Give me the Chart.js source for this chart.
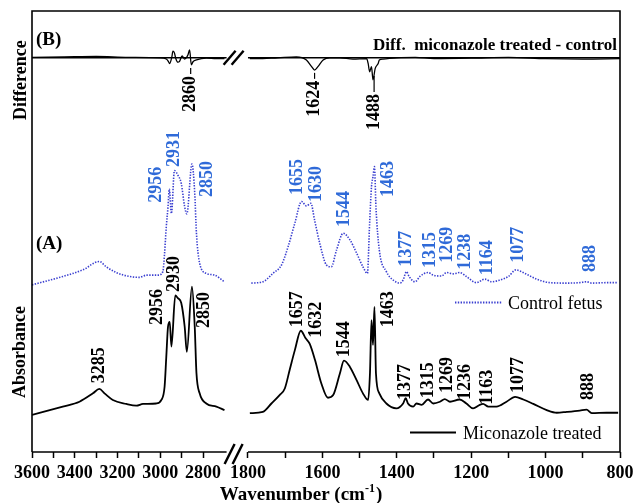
<!DOCTYPE html>
<html>
<head>
<meta charset="utf-8">
<script src="https://cdn.jsdelivr.net/npm/chart.js@4.4.1/dist/chart.umd.min.js"></script>
<style>
  html, body { margin: 0; padding: 0; background: #fff; }
</style>
</head>
<body>
<canvas id="ftir" width="636" height="503"></canvas>
<script>
// FTIR spectra: wavenumber (cm-1) and relative absorbance (a.u., stacked offsets)
// high wavenumber window 3600-2700, low wavenumber window 1800-800

const micHighWn = [3600, 3456, 3378, 3315, 3285, 3261, 3222, 3159, 3112, 3081, 3019, 2995, 2980, 2972, 2964, 2956, 2948, 2930, 2918, 2902, 2886, 2876, 2852, 2839, 2831, 2816, 2785, 2738, 2700];
const micHighAbs = [8.4, 10.3, 11.4, 13.3, 14.3, 13.3, 11.8, 10.9, 10.5, 10.9, 11.0, 11.8, 14.8, 21.6, 28.4, 29.5, 23.9, 35.5, 34.9, 33.8, 28.4, 22.7, 37.5, 28.4, 17.9, 13.3, 11.0, 10.3, 9.5];

const micLowWn = [1795, 1760, 1737, 1715, 1701, 1688, 1674, 1658, 1645, 1634, 1620, 1603, 1585, 1571, 1553, 1542, 1526, 1508, 1491, 1477, 1472, 1468, 1464, 1460, 1456, 1447, 1428, 1401, 1383, 1376, 1370, 1356, 1347, 1333, 1316, 1302, 1284, 1271, 1257, 1231, 1213, 1195, 1177, 1168, 1154, 1132, 1105, 1082, 1060, 1033, 997, 970, 943, 908, 890, 876, 836, 805];
const micLowAbs = [8.8, 9.1, 11.0, 12.9, 14.4, 18.6, 23.1, 27.5, 25.8, 24.5, 20.9, 15.6, 12.3, 12.9, 17.8, 20.7, 19.3, 16.3, 13.3, 11.8, 18.1, 29.9, 24.3, 32.9, 17.8, 13.3, 11.0, 9.9, 11.0, 12.2, 11.0, 10.3, 11.0, 10.7, 11.9, 11.0, 11.4, 12.0, 11.4, 11.9, 11.0, 9.9, 10.7, 10.9, 10.3, 10.3, 11.4, 12.5, 11.9, 10.9, 9.5, 8.9, 9.1, 9.4, 9.6, 8.8, 8.9, 8.9];

const ctrlHighWn = [3600, 3456, 3362, 3285, 3253, 3206, 3144, 3097, 3065, 3011, 2988, 2980, 2972, 2964, 2958, 2948, 2934, 2918, 2902, 2886, 2876, 2852, 2839, 2831, 2816, 2785, 2746, 2700];
const ctrlHighAbs = [37.9, 39.8, 41.3, 43.2, 42.0, 40.7, 39.8, 39.6, 40.1, 40.1, 40.9, 45.1, 51.1, 55.6, 59.6, 54.1, 63.8, 62.8, 60.9, 55.6, 54.0, 65.3, 58.7, 49.6, 42.8, 40.5, 40.1, 38.6];

const ctrlLowWn = [1791, 1760, 1733, 1710, 1692, 1674, 1656, 1643, 1631, 1621, 1607, 1589, 1576, 1562, 1544, 1526, 1508, 1491, 1479, 1473, 1468, 1464, 1460, 1456, 1447, 1428, 1410, 1391, 1383, 1374, 1367, 1351, 1338, 1316, 1302, 1280, 1266, 1248, 1231, 1213, 1186, 1163, 1145, 1123, 1100, 1080, 1056, 1024, 988, 943, 908, 890, 876, 836, 805];
const ctrlLowAbs = [38.3, 38.6, 40.5, 42.4, 46.6, 51.9, 56.8, 55.8, 56.4, 52.6, 47.3, 42.4, 42.0, 45.8, 49.6, 48.1, 45.1, 42.0, 40.5, 51.9, 60.2, 62.4, 64.7, 55.6, 45.8, 40.9, 39.0, 38.3, 39.0, 40.9, 39.8, 38.6, 39.8, 40.7, 40.1, 39.9, 40.7, 40.4, 40.7, 39.8, 38.4, 39.2, 38.6, 39.0, 39.8, 41.3, 40.5, 39.2, 38.4, 38.3, 38.4, 38.6, 38.3, 38.4, 38.4];

// difference spectrum (miconazole treated - control), drawn around its own zero line
const diffZero = 89.4;
const diffHighWn = [3600, 3450, 3300, 3150, 3000, 2972, 2964, 2956, 2946, 2941, 2934, 2928, 2918, 2910, 2898, 2886, 2871, 2863, 2855, 2847, 2831, 2785, 2738, 2700];
const diffHighAbs = [89.5, 89.6, 89.7, 89.5, 89.4, 89.1, 88.7, 88.1, 89.6, 90.9, 90.5, 89.3, 88.4, 88.6, 89.8, 89.1, 90.0, 91.2, 87.8, 88.5, 88.9, 89.3, 89.2, 89.2];
const diffLowWn = [1795, 1777, 1720, 1670, 1643, 1629, 1621, 1612, 1598, 1580, 1553, 1518, 1481, 1477, 1473, 1468, 1464, 1458, 1450, 1447, 1437, 1400, 1350, 1300, 1200, 1100, 1000, 900, 800];
const diffLowAbs = [89.2, 89.2, 89.4, 89.6, 88.9, 87.4, 86.6, 87.4, 88.9, 89.4, 89.4, 89.1, 89.2, 88.1, 86.2, 87.4, 84.4, 87.0, 88.1, 88.9, 89.1, 89.4, 89.5, 89.2, 89.3, 89.5, 89.2, 89.1, 89.2];

// tick values of the two axis windows
const highTicks = [3600, 3500, 3400, 3300, 3200, 3100, 3000, 2900, 2800];
const lowTicks = [1800, 1700, 1600, 1500, 1400, 1300, 1200, 1100, 1000, 900, 800];

// peak labels: text, axis window, wavenumber where the label sits, absorbance at the label foot
const ctrlPeaks = [
  ['2956', 'xL', 3019, 56.5], ['2931', 'xL', 2933, 64.6], ['2850', 'xL', 2779, 57.8],
  ['1655', 'xR', 1666, 58.3], ['1630', 'xR', 1615, 56.7], ['1544', 'xR', 1540, 51.0],
  ['1463', 'xR', 1424, 57.8], ['1377', 'xR', 1374, 42.0], ['1315', 'xR', 1311, 41.7],
  ['1269', 'xR', 1265, 42.9], ['1238', 'xR', 1217, 41.3], ['1164', 'xR', 1157, 40.1],
  ['1077', 'xR', 1074, 42.9], ['888', 'xR', 881, 40.8]
];
const micPeaks = [
  ['3285', 'xL', 3284, 15.6], ['2956', 'xL', 3012, 28.8], ['2930', 'xL', 2933, 36.3],
  ['2850', 'xL', 2793, 28.1], ['1657', 'xR', 1666, 28.3], ['1632', 'xR', 1615, 25.9],
  ['1544', 'xR', 1540, 21.5], ['1463', 'xR', 1424, 28.3], ['1377', 'xR', 1378, 11.8],
  ['1315', 'xR', 1316, 12.2], ['1269', 'xR', 1265, 13.4], ['1236', 'xR', 1217, 11.8],
  ['1163', 'xR', 1157, 10.7], ['1077', 'xR', 1074, 13.4], ['888', 'xR', 886, 11.8]
];
const diffPeaks = [
  ['2860', 'xL', 2858, 77.1], ['1624', 'xR', 1621, 76.0], ['1488', 'xR', 1461, 73.0]
];

const BLUE_LINE = '#3a3fd0';
const BLUE_TEXT = '#2f6ad8';
const SERIF = '"Liberation Serif", "Times New Roman", serif';

const pts = (wn, ab) => wn.map((w, i) => ({ x: w, y: ab[i] }));

const solid = (data, axis, width) => ({
  data: data, xAxisID: axis, borderColor: '#000', borderWidth: width,
  pointRadius: 0, fill: false, cubicInterpolationMode: 'monotone'
});
const dotted = (data, axis) => ({
  data: data, xAxisID: axis, borderColor: BLUE_LINE, borderWidth: 1.6,
  borderDash: [1.4, 1.4], pointRadius: 0, fill: false, cubicInterpolationMode: 'monotone'
});

const rotText = (ctx, text, x, y, font, color) => {
  ctx.save();
  ctx.translate(x, y);
  ctx.rotate(-Math.PI / 2);
  ctx.font = font;
  ctx.fillStyle = color;
  ctx.textAlign = 'left';
  ctx.textBaseline = 'middle';
  ctx.fillText(text, 0, 0);
  ctx.restore();
};

const slashes = (ctx, x, y, dx, dy) => {
  ctx.save();
  ctx.lineWidth = 2.4;
  ctx.strokeStyle = '#000';
  [0, 8].forEach(off => {
    ctx.beginPath();
    ctx.moveTo(x + off - dx, y + dy);
    ctx.lineTo(x + off + dx, y - dy);
    ctx.stroke();
  });
  ctx.restore();
};

// frame with axis break, zero line of the difference panel, labels and legend
const decor = {
  id: 'decor',
  beforeDatasetsDraw(chart) {
    const ctx = chart.ctx;
    const { left, right } = chart.chartArea;
    const y0 = chart.scales.y.getPixelForValue(diffZero);
    const gapL = chart.scales.xL.getPixelForValue(2690);
    const gapR = chart.scales.xR.getPixelForValue(1800);
    ctx.save();
    ctx.strokeStyle = '#000';
    ctx.lineWidth = 1.3;
    ctx.beginPath();
    ctx.moveTo(left, y0); ctx.lineTo(gapL, y0);
    ctx.moveTo(gapR, y0); ctx.lineTo(right, y0);
    ctx.stroke();
    ctx.restore();
  },
  afterDraw(chart) {
    const ctx = chart.ctx;
    const { left, right, top, bottom } = chart.chartArea;
    const ys = chart.scales.y;
    const gapL = chart.scales.xL.getPixelForValue(2690);
    const gapR = chart.scales.xR.getPixelForValue(1800);
    const y0 = ys.getPixelForValue(diffZero);

    ctx.save();
    ctx.strokeStyle = '#000';
    ctx.lineWidth = 1.6;
    ctx.beginPath();
    ctx.moveTo(left, bottom); ctx.lineTo(left, top); ctx.lineTo(right, top); ctx.lineTo(right, bottom);
    ctx.moveTo(left, bottom); ctx.lineTo(gapL, bottom);
    ctx.moveTo(gapR, bottom); ctx.lineTo(right, bottom);
    ctx.stroke();
    ctx.restore();
    slashes(ctx, gapL + 3, bottom + 2, 5, 10);
    slashes(ctx, gapL + 3, y0, 6, 7);

    const labelFont = 'bold 18px ' + SERIF;
    const put = (list, color) => list.forEach(([t, ax, at, base]) => {
      rotText(ctx, t, chart.scales[ax].getPixelForValue(at), ys.getPixelForValue(base), labelFont, color);
    });
    put(ctrlPeaks, BLUE_TEXT);
    put(micPeaks, '#000');
    put(diffPeaks, '#000');

    // short leaders from the difference dips down to their labels
    ctx.save();
    ctx.strokeStyle = '#000';
    ctx.lineWidth = 1.2;
    ctx.font = labelFont;
    diffPeaks.forEach(([t, ax, at, base]) => {
      const x = chart.scales[ax].getPixelForValue(at);
      const yl = ys.getPixelForValue(base) - ctx.measureText(t).width - 2;
      ctx.beginPath();
      ctx.moveTo(x, yl);
      ctx.lineTo(x, t === '1488' ? yl - 16 : yl - 6);
      ctx.stroke();
    });
    ctx.restore();

    ctx.save();
    ctx.fillStyle = '#000';
    ctx.font = 'bold 19px ' + SERIF;
    ctx.textBaseline = 'alphabetic';
    ctx.fillText('(B)', left + 4, top + 34);
    ctx.fillText('(A)', left + 4, top + 238);
    ctx.font = 'bold 17px ' + SERIF;
    ctx.textAlign = 'right';
    ctx.fillText('Diff.  miconazole treated - control', right - 3, top + 39);

    // legend entries
    ctx.textAlign = 'left';
    ctx.font = '18px ' + SERIF;
    ctx.fillText('Control fetus', right - 112, 309);
    ctx.fillText('Miconazole treated', right - 157, 439);
    ctx.strokeStyle = BLUE_LINE;
    ctx.lineWidth = 1.8;
    ctx.setLineDash([1.4, 1.4]);
    ctx.beginPath(); ctx.moveTo(right - 165, 302.5); ctx.lineTo(right - 118, 302.5); ctx.stroke();
    ctx.setLineDash([]);
    ctx.strokeStyle = '#000';
    ctx.lineWidth = 2;
    ctx.beginPath(); ctx.moveTo(right - 210, 432.5); ctx.lineTo(right - 164, 432.5); ctx.stroke();

    // axis titles
    rotText(ctx, 'Difference', 21, 120, 'bold 18px ' + SERIF, '#000');
    ctx.font = 'bold 18px ' + SERIF;
    const absW = ctx.measureText('Absorbance').width;
    rotText(ctx, 'Absorbance', 20, 352 + absW / 2, 'bold 18px ' + SERIF, '#000');

    const t1 = 'Wavenumber (cm', t3 = ')';
    ctx.textAlign = 'left';
    ctx.font = 'bold 12px ' + SERIF;
    const supW = ctx.measureText('-1').width;
    ctx.font = 'bold 19px ' + SERIF;
    const w1 = ctx.measureText(t1).width, w3 = ctx.measureText(t3).width;
    let x = 301 - (w1 + supW + 1 + w3) / 2;
    const base = 500;
    ctx.fillText(t1, x, base);
    x += w1;
    ctx.font = 'bold 12px ' + SERIF;
    ctx.fillText('-1', x, base - 8);
    x += supW + 1;
    ctx.font = 'bold 19px ' + SERIF;
    ctx.fillText(t3, x, base);
    ctx.restore();
  }
};

const tickFont = { family: SERIF, weight: 'bold', size: 18 };
const xAxis = (min, max, weight, ticks) => ({
  type: 'linear', position: 'bottom', reverse: true, min: min, max: max,
  stack: 'wn', stackWeight: weight,
  afterBuildTicks: s => { s.ticks = ticks.map(v => ({ value: v })); },
  afterFit: s => { s.height = 51; s.paddingLeft = 0; s.paddingRight = 0; },
  ticks: {
    autoSkip: false, maxRotation: 0, color: '#000', font: tickFont, padding: 5,
    callback: v => (v % 200 === 0 ? String(v) : '')
  },
  grid: { drawOnChartArea: false, drawTicks: true, tickLength: 6, tickWidth: 1.5, tickColor: '#000' },
  border: { display: false }
});

new Chart(document.getElementById('ftir'), {
  type: 'line',
  data: {
    datasets: [
      dotted(pts(ctrlHighWn, ctrlHighAbs), 'xL'),
      dotted(pts(ctrlLowWn, ctrlLowAbs), 'xR'),
      solid(pts(micHighWn, micHighAbs), 'xL', 1.8),
      solid(pts(micLowWn, micLowAbs), 'xR', 1.8),
      solid(pts(diffHighWn, diffHighAbs), 'xL', 1.3),
      solid(pts(diffLowWn, diffLowAbs), 'xR', 1.3)
    ]
  },
  options: {
    responsive: false,
    animation: false,
    devicePixelRatio: 1,
    layout: { padding: { left: 32, right: 16, top: 11, bottom: 0 } },
    plugins: { legend: { display: false }, tooltip: { enabled: false } },
    scales: {
      xL: xAxis(2590, 3600, 215.8, highTicks),
      xR: xAxis(800, 1800, 371.7, lowTicks),
      y: { type: 'linear', min: 0, max: 100, display: false }
    }
  },
  plugins: [decor]
});
</script>
</body>
</html>
